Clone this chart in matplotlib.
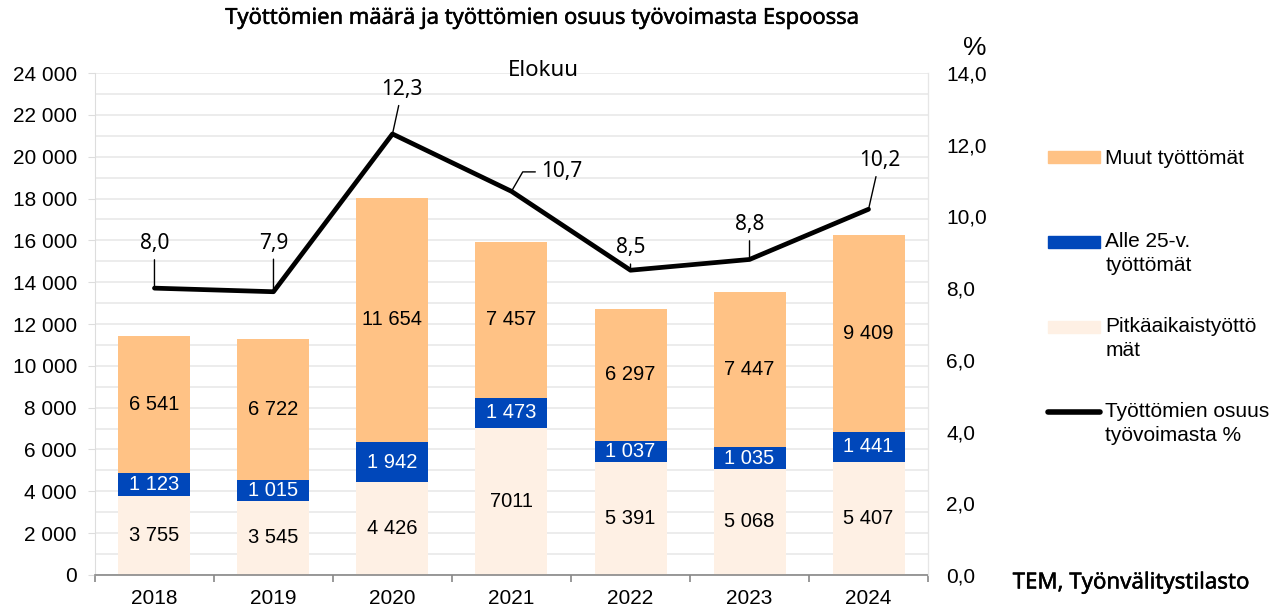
import matplotlib
matplotlib.use("Agg")
import numpy as np
import matplotlib.pyplot as plt
import matplotlib.patheffects as pe
from matplotlib.ticker import MultipleLocator, FuncFormatter
from matplotlib.patches import Patch, Rectangle
from matplotlib.lines import Line2D
from matplotlib.legend_handler import HandlerPatch, HandlerLine2D

years = ["2018", "2019", "2020", "2021", "2022", "2023", "2024"]
pitka = [3755, 3545, 4426, 7011, 5391, 5068, 5407]
alle25 = [1123, 1015, 1942, 1473, 1037, 1035, 1441]
muut = [6541, 6722, 11654, 7457, 6297, 7447, 9409]
osuus = [8.0, 7.9, 12.3, 10.7, 8.5, 8.8, 10.2]
pitka_labels = ["3 755", "3 545", "4 426", "7011", "5 391", "5 068", "5 407"]

# label offsets for the percentage line (points)
osuus_offsets = [(0, 32), (0, 35), (7, 32), (36, 14), (0, 16), (0, 25), (8, 35)]

c_muut = "#FFC285"
c_alle = "#0047BA"
c_pitka = "#FEF0E4"
numfont = "Liberation Sans"
txtfont = "Noto Sans"
NUM = 15
heavy = [pe.withStroke(linewidth=0.35, foreground="black")]


def fmt(v):
    return f"{v:,}".replace(",", " ")


def up_patch(legend, orig_handle, xdescent, ydescent, width, height, fontsize):
    # align the legend key with the first text line
    shift = 0.57 * fontsize if "\n" in orig_handle.get_label() else 0
    return Rectangle((-xdescent, -ydescent + shift), width, height)


class UpLine(HandlerLine2D):
    def create_artists(self, legend, orig_handle, xdescent, ydescent, width,
                       height, fontsize, trans):
        shift = 0.57 * fontsize
        return super().create_artists(legend, orig_handle, xdescent,
                                      ydescent - 2 * shift, width, height,
                                      fontsize, trans)


fig = plt.figure(figsize=(12.85, 6.1), dpi=100)
ax = fig.add_axes([0.0739, 0.0574, 0.6483, 0.8229])
x = np.arange(len(years))
w = 0.605

b1 = ax.bar(x, pitka, w, color=c_pitka, zorder=2)
b2 = ax.bar(x, alle25, w, bottom=pitka, color=c_alle, zorder=2)
bot3 = np.array(pitka) + np.array(alle25)
b3 = ax.bar(x, muut, w, bottom=bot3, color=c_muut, zorder=2)

ax.bar_label(b1, labels=pitka_labels, label_type="center", fontsize=14.5, family=numfont)
ax.bar_label(b2, labels=[fmt(v) for v in alle25], label_type="center", fontsize=14.5,
             family=numfont, color="white")
ax.bar_label(b3, labels=[fmt(v) for v in muut], label_type="center", fontsize=14.5,
             family=numfont)

ax.set_xlim(-0.5, len(years) - 0.5)
ax.set_ylim(0, 24000)
ax.yaxis.set_major_locator(MultipleLocator(2000))
ax.yaxis.set_minor_locator(MultipleLocator(1000))
ax.yaxis.set_major_formatter(FuncFormatter(lambda v, p: fmt(int(v))))
ax.grid(axis="y", which="both", color="#EBEBEB", lw=1.3, zorder=0)
ax.set_axisbelow(True)
ax.set_xticks(x)
ax.set_xticklabels(years)
ax.set_xticks(np.arange(-0.5, len(years)), minor=True)
ax.tick_params(axis="x", which="major", length=0, pad=10, labelsize=NUM)
ax.tick_params(axis="x", which="minor", length=5, color="#888888", width=1.2)
ax.tick_params(axis="y", which="major", length=5, color="#DDDDDD", labelsize=NUM, pad=8)
ax.tick_params(axis="y", which="minor", length=0)
for lab in ax.get_xticklabels() + ax.get_yticklabels():
    lab.set_family(numfont)
ax.spines["top"].set_visible(False)
ax.spines["left"].set_color("#DDDDDD")
ax.spines["right"].set_color("#E6E6E6")
ax.spines["bottom"].set_color("#888888")
ax.spines["bottom"].set_linewidth(1.2)

ax2 = ax.twinx()
ln, = ax2.plot(x, osuus, color="black", lw=3.4, solid_capstyle="round",
               solid_joinstyle="round", zorder=5)
ax2.set_ylim(0, 14)
ax2.yaxis.set_major_locator(MultipleLocator(2))
ax2.yaxis.set_major_formatter(FuncFormatter(lambda v, p: f"{v:.1f}".replace(".", ",")))
ax2.tick_params(axis="y", length=0, pad=13, labelsize=NUM)
for lab in ax2.get_yticklabels():
    lab.set_family(numfont)
for s in ["top", "left", "bottom"]:
    ax2.spines[s].set_visible(False)
ax2.spines["right"].set_color("#E6E6E6")

for i, (xi, v, off) in enumerate(zip(x, osuus, osuus_offsets)):
    conn = "angle,angleA=0,angleB=60,rad=0" if years[i] == "2021" else "arc3"
    ax2.annotate(f"{v:.1f}".replace(".", ","), xy=(xi, v), xytext=off,
                 textcoords="offset points", ha="center", va="center",
                 fontsize=15, family=txtfont,
                 arrowprops=dict(arrowstyle="-", color="black", lw=1,
                                 shrinkA=2, shrinkB=0, connectionstyle=conn))

fig.text(542 / 1285, 0.970, "Työttömien määrä ja työttömien osuus työvoimasta Espoossa",
         ha="center", va="center", fontsize=15.8, family=txtfont, path_effects=heavy)
fig.text(543 / 1285, 1 - 70 / 610, "Elokuu", ha="center", va="center",
         fontsize=16, family=txtfont)
fig.text(975 / 1285, 1 - 48 / 610, "%", ha="center", va="center", fontsize=19,
         family=numfont)
fig.text(1131 / 1285, 1 - 583 / 610, "TEM, Työnvälitystilasto", ha="center",
         va="center", fontsize=16, family=txtfont, path_effects=heavy)

h_muut = Patch(color=c_muut, label="Muut työttömät")
h_alle = Patch(color=c_alle, label="Alle 25-v.\ntyöttömät")
h_pitka = Patch(color=c_pitka, label="Pitkäaikaistyöttö\nmät")
h_line = Line2D([], [], color="black", lw=4, solid_capstyle="round",
                label="Työttömien osuus\ntyövoimasta %")

leg_kw = dict(loc="upper left", frameon=False, borderpad=0, borderaxespad=0,
              prop=dict(family=numfont, size=15), handlelength=2.5,
              handleheight=0.5, handletextpad=0.25,
              handler_map={Patch: HandlerPatch(patch_func=up_patch),
                           Line2D: UpLine()})
leg1 = fig.legend(handles=[h_muut], bbox_to_anchor=(1048 / 1285, 1 - 149 / 610), **leg_kw)
leg2 = fig.legend(handles=[h_alle, h_pitka, h_line], labelspacing=2.0,
                  bbox_to_anchor=(1048 / 1285, 1 - 232 / 610), **leg_kw)
for t in leg2.get_texts():
    t.set_linespacing(1.35)

fig.savefig("out.png", dpi=100)
